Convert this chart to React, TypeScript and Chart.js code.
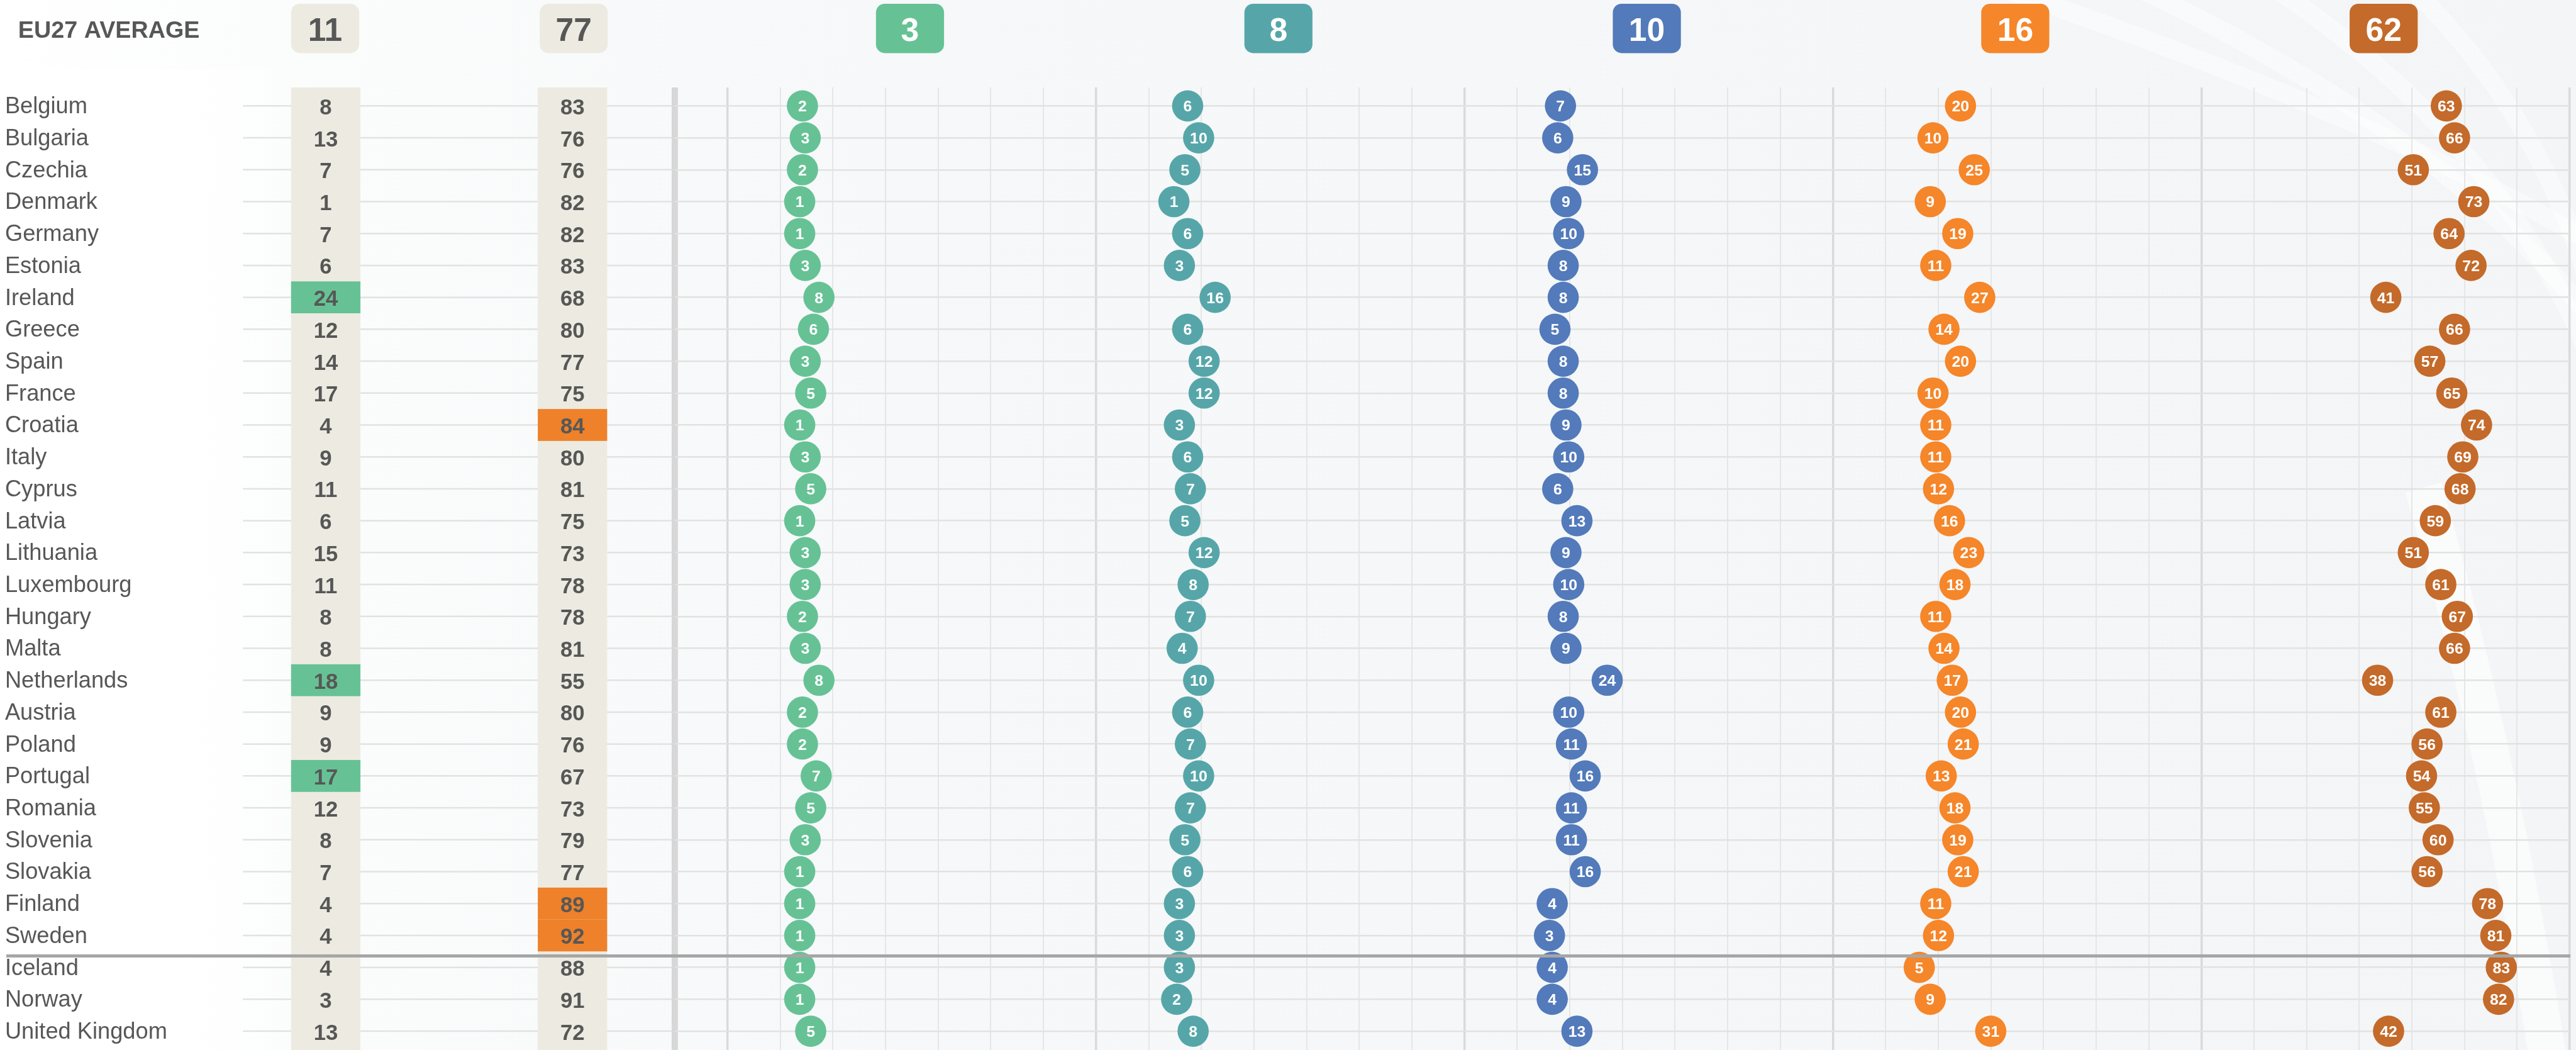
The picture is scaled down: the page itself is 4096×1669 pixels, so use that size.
import { useEffect, useRef } from 'react';
import { Chart, registerables } from 'chart.js';

Chart.register(...registerables);

// ---------------- data ----------------
const countries = [
  'Belgium', 'Bulgaria', 'Czechia', 'Denmark', 'Germany', 'Estonia', 'Ireland', 'Greece',
  'Spain', 'France', 'Croatia', 'Italy', 'Cyprus', 'Latvia', 'Lithuania', 'Luxembourg',
  'Hungary', 'Malta', 'Netherlands', 'Austria', 'Poland', 'Portugal', 'Romania', 'Slovenia',
  'Slovakia', 'Finland', 'Sweden', 'Iceland', 'Norway', 'United Kingdom',
];

const headerTitle = 'EU27 AVERAGE';
const tableAverages = [11, 77];
const tableColumnA = [8, 13, 7, 1, 7, 6, 24, 12, 14, 17, 4, 9, 11, 6, 15, 11, 8, 8, 18, 9, 9, 17, 12, 8, 7, 4, 4, 4, 3, 13];
const tableColumnB = [83, 76, 76, 82, 82, 83, 68, 80, 77, 75, 84, 80, 81, 75, 73, 78, 78, 81, 55, 80, 76, 67, 73, 79, 77, 89, 92, 88, 91, 72];
const highlightA = ['Ireland', 'Netherlands', 'Portugal'];
const highlightB = ['Croatia', 'Finland', 'Sweden'];

const seriesAverages = [3, 8, 10, 16, 62];
const series1 = [2, 3, 2, 1, 1, 3, 8, 6, 3, 5, 1, 3, 5, 1, 3, 3, 2, 3, 8, 2, 2, 7, 5, 3, 1, 1, 1, 1, 1, 5];
const series2 = [6, 10, 5, 1, 6, 3, 16, 6, 12, 12, 3, 6, 7, 5, 12, 8, 7, 4, 10, 6, 7, 10, 7, 5, 6, 3, 3, 3, 2, 8];
const series3 = [7, 6, 15, 9, 10, 8, 8, 5, 8, 8, 9, 10, 6, 13, 9, 10, 8, 9, 24, 10, 11, 16, 11, 11, 16, 4, 3, 4, 4, 13];
const series4 = [20, 10, 25, 9, 19, 11, 27, 14, 20, 10, 11, 11, 12, 16, 23, 18, 11, 14, 17, 20, 21, 13, 18, 19, 21, 11, 12, 5, 9, 31];
const series5 = [63, 66, 51, 73, 64, 72, 41, 66, 57, 65, 74, 69, 68, 59, 51, 61, 67, 66, 38, 61, 56, 54, 55, 60, 56, 78, 81, 83, 82, 42];
const seriesList = [series1, series2, series3, series4, series5];

// ---------------- layout / style ----------------
const S = 4096 / 4124;
const px = (v: number) => v * S;
const FONT = '"Liberation Sans", Arial, Helvetica, sans-serif';
const TEXT = '#575757';
const seriesColors = ['#66C295', '#56A6A9', '#537ABA', '#F5862A', '#C46A2A'];
const BEIGE = '#EDEBE1';
const HL_A = '#66C295';
const HL_B = '#EE8129';

const PANEL = 134; // axis units per panel
const panelZero = [25.2, 27.3, 27.9, 26.4, 26.1]; // where 0 sits inside each panel (axis units)
const X_MIN = -PANEL / 7;
const X_MAX = 5 * PANEL;
const Y_MIN = -0.578;
const Y_MAX = 29.59;
const SEPARATOR_AT = 26.64;

const colA = { left: 466, right: 577 };
const colB = { left: 861, right: 972 };
const headBoxA = { left: 466, right: 575 };
const headBoxB = { left: 864, right: 973 };
const HEAD_TOP = 6;
const HEAD_BOTTOM = 85;

function roundBox(ctx: CanvasRenderingContext2D, x0: number, y0: number, w: number, h: number, r: number, fill: string) {
  ctx.beginPath();
  ctx.roundRect(x0, y0, w, h, r);
  ctx.fillStyle = fill;
  ctx.fill();
}

const tablePlugin = {
  id: 'tablePlugin',
  beforeDraw(chart: any) {
    const { ctx, width, height } = chart;
    ctx.save();
    const g = ctx.createLinearGradient(0, 0, width, 0);
    g.addColorStop(0, '#ffffff');
    g.addColorStop(0.12, '#fbfcfc');
    g.addColorStop(0.35, '#f6f8f9');
    g.addColorStop(1, '#f3f5f6');
    ctx.fillStyle = g;
    ctx.fillRect(0, 0, width, height);
    // white name column
    const gw = ctx.createLinearGradient(px(300), 0, px(480), 0);
    gw.addColorStop(0, 'rgba(255,255,255,1)');
    gw.addColorStop(1, 'rgba(255,255,255,0)');
    ctx.fillStyle = gw;
    ctx.fillRect(0, px(110), px(480), height);
    // faint light swooshes on the right
    ctx.strokeStyle = 'rgba(255,255,255,0.45)';
    ctx.lineWidth = px(30);
    for (let k = 0; k < 4; k++) {
      ctx.beginPath();
      ctx.moveTo(px(3200 + k * 220), px(-20));
      ctx.quadraticCurveTo(px(3850 + k * 120), px(200 + k * 40), px(4200), px(420 + k * 160));
      ctx.stroke();
    }
    ctx.strokeStyle = 'rgba(255,255,255,0.6)';
    ctx.lineWidth = px(60);
    ctx.beginPath();
    ctx.moveTo(px(3880), px(780));
    ctx.quadraticCurveTo(px(4000), px(1200), px(4080), px(1700));
    ctx.stroke();
    ctx.restore();
  },
  beforeDatasetsDraw(chart: any) {
    const { ctx, chartArea, height } = chart;
    const y = chart.scales.y;
    ctx.save();
    // left part of row lines
    ctx.strokeStyle = '#e2e2e2';
    ctx.lineWidth = px(2.5);
    countries.forEach((_, i) => {
      const yy = y.getPixelForValue(i);
      ctx.beginPath();
      ctx.moveTo(px(389), yy);
      ctx.lineTo(chartArea.left - px(5), yy);
      ctx.stroke();
    });
    // beige columns
    ctx.fillStyle = BEIGE;
    ctx.fillRect(px(colA.left), chartArea.top, px(colA.right - colA.left), height - chartArea.top);
    ctx.fillRect(px(colB.left), chartArea.top, px(colB.right - colB.left), height - chartArea.top);
    // highlighted cells
    countries.forEach((c, i) => {
      const t = y.getPixelForValue(i - 0.5);
      const b = y.getPixelForValue(i + 0.5);
      if (highlightA.includes(c)) {
        ctx.fillStyle = HL_A;
        ctx.fillRect(px(colA.left), t, px(colA.right - colA.left), b - t);
      }
      if (highlightB.includes(c)) {
        ctx.fillStyle = HL_B;
        ctx.fillRect(px(colB.left), t, px(colB.right - colB.left), b - t);
      }
    });
    // table text
    ctx.textBaseline = 'alphabetic';
    const fsV = px(35);
    const fsN = px(36.5);
    countries.forEach((c, i) => {
      const yy = y.getPixelForValue(i);
      ctx.fillStyle = TEXT;
      ctx.font = `bold ${fsV}px ${FONT}`;
      ctx.textAlign = 'center';
      ctx.fillText(String(tableColumnA[i]), px((colA.left + colA.right) / 2), yy + 0.358 * fsV + px(1));
      ctx.fillText(String(tableColumnB[i]), px((colB.left + colB.right) / 2), yy + 0.358 * fsV + px(1));
      ctx.font = `${fsN}px ${FONT}`;
      ctx.textAlign = 'left';
      ctx.fillText(c, px(8), yy + 0.358 * fsN - px(1));
    });
    ctx.restore();
  },
  afterDatasetsDraw(chart: any) {
    const { ctx } = chart;
    const y = chart.scales.y;
    const x = chart.scales.x;
    ctx.save();
    // dot labels
    const fs = px(25);
    ctx.font = `bold ${fs}px ${FONT}`;
    ctx.textAlign = 'center';
    ctx.textBaseline = 'alphabetic';
    ctx.fillStyle = '#ffffff';
    seriesList.forEach((vals, k) => {
      const meta = chart.getDatasetMeta(k);
      meta.data.forEach((el: any, i: number) => {
        ctx.fillText(String(vals[i]), el.x, el.y + 0.358 * fs);
      });
    });
    // separator between EU and non-EU
    const sy = y.getPixelForValue(SEPARATOR_AT);
    ctx.strokeStyle = '#a6a6a6';
    ctx.lineWidth = px(5);
    ctx.beginPath();
    ctx.moveTo(px(10), sy);
    ctx.lineTo(px(4115), sy);
    ctx.stroke();

    // header
    ctx.fillStyle = TEXT;
    const fsT = px(38);
    ctx.font = `bold ${fsT}px ${FONT}`;
    ctx.textAlign = 'left';
    ctx.fillText(headerTitle, px(29), px(60));
    const fsH = px(52);
    const r = px(14);
    const boxes = [
      { l: px(headBoxA.left), r: px(headBoxA.right), fill: BEIGE, text: String(tableAverages[0]), color: TEXT },
      { l: px(headBoxB.left), r: px(headBoxB.right), fill: BEIGE, text: String(tableAverages[1]), color: TEXT },
    ];
    const bw = px(109);
    seriesAverages.forEach((v, k) => {
      const cx = x.getPixelForValue(k * PANEL + PANEL / 2) - px(3);
      boxes.push({ l: cx - bw / 2, r: cx + bw / 2, fill: seriesColors[k], text: String(v), color: '#ffffff' });
    });
    boxes.forEach((b) => {
      roundBox(ctx, b.l, px(HEAD_TOP), b.r - b.l, px(HEAD_BOTTOM - HEAD_TOP), r, b.fill);
      ctx.fillStyle = b.color;
      ctx.font = `bold ${fsH}px ${FONT}`;
      ctx.textAlign = 'center';
      ctx.fillText(b.text, (b.l + b.r) / 2, px(65));
    });
    ctx.restore();
  },
};

export default function App() {
  const ref = useRef<HTMLCanvasElement>(null);
  useEffect(() => {
    document.body.style.margin = '0';
    document.body.style.overflow = 'hidden';
    const canvas = ref.current!;
    const datasets = seriesList.map((vals, k) => ({
      label: `series${k + 1}`,
      data: vals.map((v, i) => ({ x: k * PANEL + panelZero[k] + v, y: i })),
      backgroundColor: seriesColors[k],
      borderWidth: 0,
      pointRadius: px(25),
      pointHoverRadius: px(25),
      pointBorderWidth: 0,
      clip: false as any,
    }));
    const chart = new Chart(canvas, {
      type: 'scatter',
      data: { datasets },
      options: {
        responsive: false,
        animation: false,
        events: [],
        layout: {
          autoPadding: false,
          padding: { left: px(1080.7), right: 4096 - px(4114), top: px(140), bottom: 0 },
        },
        plugins: { legend: { display: false }, tooltip: { enabled: false } },
        scales: {
          x: {
            type: 'linear',
            min: X_MIN,
            max: X_MAX,
            position: 'top',
            ticks: { display: false },
            border: { display: false },
            afterBuildTicks: (scale: any) => {
              scale.ticks = Array.from({ length: 37 }, (_, j) => ({ value: X_MIN + (j * PANEL) / 7 }));
            },
            grid: {
              drawTicks: false,
              color: (c: any) => (c.index === 0 ? '#d7d7d7' : (c.index - 1) % 7 === 0 ? '#dadada' : '#e6e6e6'),
              lineWidth: (c: any) => (c.index === 0 ? px(10) : (c.index - 1) % 7 === 0 ? px(3.5) : px(2)),
            },
          },
          y: {
            type: 'linear',
            reverse: true,
            min: Y_MIN,
            max: Y_MAX,
            ticks: { display: false },
            border: { display: false },
            afterBuildTicks: (scale: any) => {
              scale.ticks = countries.map((_, i) => ({ value: i }));
            },
            grid: { drawTicks: false, color: '#e2e2e2', lineWidth: px(2.5) },
          },
        },
      },
      plugins: [tablePlugin],
    });
    return () => chart.destroy();
  }, []);
  return (
    <div style={{ position: 'relative', width: 4096, height: 1669 }}>
      <canvas ref={ref} width={4096} height={1669} style={{ width: 4096, height: 1669, display: 'block' }} />
    </div>
  );
}
